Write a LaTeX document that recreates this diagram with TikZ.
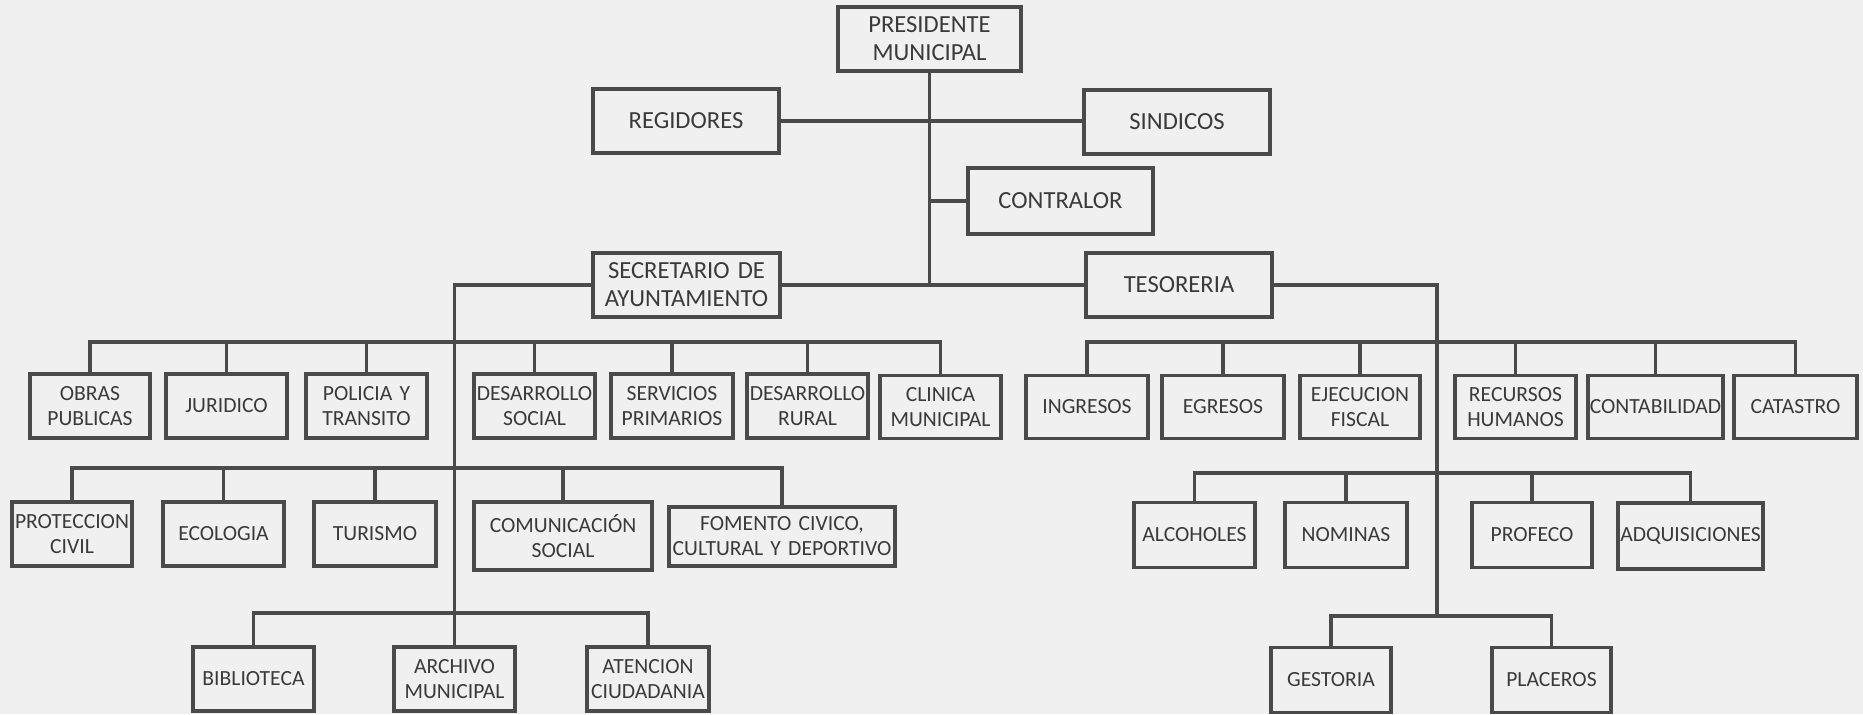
\documentclass[tikz,border=0pt]{standalone}
\usepackage{fontspec}
\setmainfont{Carlito}
\definecolor{bg}{HTML}{F0F0F0}
\definecolor{ln}{HTML}{4A4A4A}
\definecolor{tx}{HTML}{3A3A3A}
\tikzset{
  box/.style={draw=ln, line width=2.2pt, inner xsep=0pt, inner ysep=0pt, align=center, text=tx,
    font=\fontsize{12.3}{14.2}\selectfont},
  topbox/.style={box, font=\fontsize{14}{16}\selectfont},
  conn/.style={draw=ln, line width=1.8pt}
}
% \bx[style]{name}{cx}{cy}{w}{h}{text}
\newcommand{\bx}[7][box]{\node[#1, text width={(#5)*0.02cm}, minimum height={(#6)*0.02cm}] (#2) at (#3,#4) {#7};}
\begin{document}
\begin{tikzpicture}[x=0.02cm,y=-0.02cm]
\fill[bg] (0,0) rectangle (1863,714);
\useasboundingbox (0,0) rectangle (1863,714);
% top level
\bx[topbox]{pres}{929.5}{39}{183}{64}{PRESIDENTE\\MUNICIPAL}
\bx[topbox]{reg}{686}{121}{186}{64}{REGIDORES}
\bx[topbox]{sin}{1177}{122}{186}{64}{SINDICOS}
\bx[topbox]{con}{1060.5}{201}{185}{66}{CONTRALOR}
\bx[topbox]{sec}{686.5}{285}{187}{64}{SECRETARIO DE\\AYUNTAMIENTO}
\bx[topbox]{tes}{1179}{285}{186}{64}{TESORERIA}
% row 1 left
\bx{obras}{90}{406}{120}{64}{OBRAS\\PUBLICAS}
\bx{jur}{226.5}{406}{121}{64}{JURIDICO}
\bx{pol}{366.5}{406}{121}{64}{POLICIA Y\\TRANSITO}
\bx{dsoc}{534.5}{406}{121}{64}{DESARROLLO\\SOCIAL}
\bx{serv}{672}{406}{122}{64}{SERVICIOS\\PRIMARIOS}
\bx{drur}{807.5}{406}{121}{64}{DESARROLLO\\RURAL}
\bx{clin}{940.5}{407}{121}{63}{CLINICA\\MUNICIPAL}
% row 1 right
\bx{ing}{1087}{407}{122}{63}{INGRESOS}
\bx{egr}{1223}{407}{122}{63}{EGRESOS}
\bx{eje}{1360}{407}{120}{63}{EJECUCION\\FISCAL}
\bx{rec}{1515.5}{407}{121}{63}{RECURSOS\\HUMANOS}
\bx{cont}{1655.5}{407}{135}{63}{CONTABILIDAD}
\bx{cat}{1795.5}{407}{123}{63}{CATASTRO}
% row 2 left
\bx{prot}{72}{534}{120}{64}{PROTECCION\\CIVIL}
\bx{eco}{223.5}{534}{121}{64}{ECOLOGIA}
\bx{tur}{375}{534}{122}{64}{TURISMO}
\bx{com}{563}{536}{178}{68}{COMUNICACIÓN\\SOCIAL}
\bx{fom}{782}{536.5}{226}{59}{FOMENTO CIVICO,\\CULTURAL Y DEPORTIVO}
% row 3 left
\bx{bib}{253.5}{679}{121}{64}{BIBLIOTECA}
\bx{arch}{454.5}{679}{121}{64}{ARCHIVO\\MUNICIPAL}
\bx{aten}{648}{679}{122}{64}{ATENCION\\CIUDADANIA}
% row 2 right
\bx{alc}{1194.5}{535}{121}{65}{ALCOHOLES}
\bx{nom}{1346}{535}{122}{65}{NOMINAS}
\bx{prof}{1532}{535}{120}{65}{PROFECO}
\bx{adq}{1690.5}{536}{145}{66}{ADQUISICIONES}
% row 3 right
\bx{ges}{1331}{680}{120}{65}{GESTORIA}
\bx{pla}{1551.5}{680}{119}{65}{PLACEROS}
% bus coordinates
\coordinate (b1) at (0,342);
\coordinate (b2l) at (0,468);
\coordinate (b3l) at (0,613);
\coordinate (b2r) at (0,473);
\coordinate (b3r) at (0,616);
\coordinate (rv) at (1437,616);
% connectors, top
\draw[conn] (pres.south) -- (pres.south |- sec.east);
\draw[conn] (reg.east) -- (reg.east -| sin.west);
\draw[conn] (con.west) -- (con.west -| pres.south);
\draw[conn] (sec.east) -- (sec.east -| tes.west);
\draw[conn] (sec.west) -| (arch.north);
\draw[conn] (tes.east) -| (rv);
% row 1 left bus
\draw[conn] (obras.north) -- (obras.north |- b1) -- (clin.north |- b1) -- (clin.north);
\foreach \n in {jur,pol,dsoc,serv,drur} \draw[conn] (\n.north) -- (\n.north |- b1);
% row 1 right bus
\draw[conn] (ing.north) -- (ing.north |- b1) -- (cat.north |- b1) -- (cat.north);
\foreach \n in {egr,eje,rec,cont} \draw[conn] (\n.north) -- (\n.north |- b1);
% row 2 left bus
\draw[conn] (prot.north) -- (prot.north |- b2l) -- (fom.north |- b2l) -- (fom.north);
\foreach \n in {eco,tur,com} \draw[conn] (\n.north) -- (\n.north |- b2l);
% row 3 left bus
\draw[conn] (bib.north) -- (bib.north |- b3l) -- (aten.north |- b3l) -- (aten.north);
% row 2 right bus
\draw[conn] (alc.north) -- (alc.north |- b2r) -- (adq.north |- b2r) -- (adq.north);
\foreach \n in {nom,prof} \draw[conn] (\n.north) -- (\n.north |- b2r);
% row 3 right bus
\draw[conn] (ges.north) -- (ges.north |- b3r) -- (pla.north |- b3r) -- (pla.north);
\end{tikzpicture}
\end{document}
